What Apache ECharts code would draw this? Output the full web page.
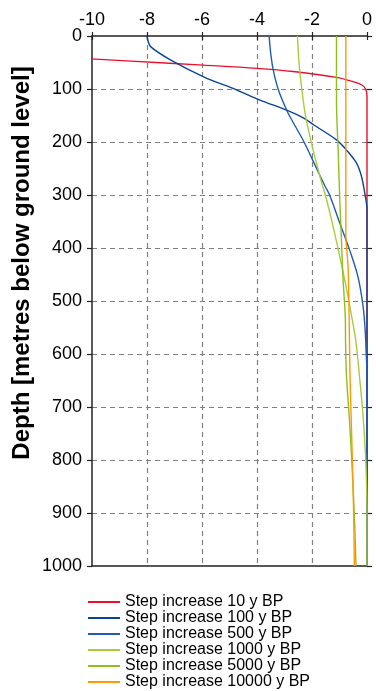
<!DOCTYPE html>
<html>
<head>
<meta charset="utf-8">
<script src="https://cdn.jsdelivr.net/npm/echarts@6/dist/echarts.min.js"></script>
<style>
html,body{margin:0;padding:0;background:#fff;}
#chart{width:376px;height:691px;}
</style>
</head>
<body>
<div id="chart"></div>
<script>
// ---- Data ----
var xTicks = [-10, -8, -6, -4, -2, 0];
var yTicks = [0, 100, 200, 300, 400, 500, 600, 700, 800, 900, 1000];
var seriesNames = ['Step increase 10 y BP', 'Step increase 100 y BP', 'Step increase 500 y BP',
                   'Step increase 1000 y BP', 'Step increase 5000 y BP', 'Step increase 10000 y BP'];

var depth10 = [42, 47, 55, 61, 67, 78, 86, 92, 100, 114, 200, 350, 1000];
var temp10  = [-10.42, -8.73, -5.95, -4.01, -2.68, -1.11, -0.51, -0.2, -0.05, 0, 0, 0, 0];

var depth100 = [0, 8, 20, 45, 77, 102, 121, 140, 155, 168, 196, 215, 240, 265, 297, 328, 1000];
var temp100  = [-8.0, -7.97, -7.87, -7.15, -5.94, -4.73, -3.89, -2.92, -2.3, -1.93, -1.11, -0.75, -0.38, -0.2, -0.08, 0, 0];

var depth500 = [0, 33, 64, 102, 140, 158, 200, 247, 284, 300, 353, 404, 454, 511, 561, 599, 636, 1000];
var temp500  = [-3.56, -3.5, -3.41, -3.22, -2.92, -2.74, -2.29, -1.86, -1.52, -1.36, -0.99, -0.63, -0.33, -0.14, -0.06, -0.03, 0, 0];

var depth1000 = [0, 58, 121, 155, 215, 265, 309, 360, 416, 473, 523, 574, 655, 712, 794, 840, 900, 1000];
var temp1000  = [-2.53, -2.46, -2.32, -2.22, -1.96, -1.71, -1.47, -1.23, -0.99, -0.76, -0.58, -0.41, -0.25, -0.15, -0.05, -0.02, 0, 0];

var depth5000 = [0, 121, 215, 309, 385, 460, 530, 574, 637, 731, 825, 919, 1000];
var temp5000  = [-1.11, -1.11, -1.05, -0.99, -0.93, -0.87, -0.79, -0.78, -0.75, -0.63, -0.53, -0.45, -0.40];

var depth10000 = [0, 372, 435, 530, 637, 731, 825, 919, 1000];
var temp10000  = [-0.77, -0.77, -0.69, -0.65, -0.62, -0.57, -0.52, -0.48, -0.46];

var colors = ['#E8112D', '#0A4396', '#1E5CB3', '#A8CC3A', '#8DBF1F', '#FF9A00'];

// ---- Build ----
function pairs(t, d) { return t.map(function (v, i) { return [v, d[i]]; }); }
var allData = [
  pairs(temp10, depth10), pairs(temp100, depth100), pairs(temp500, depth500),
  pairs(temp1000, depth1000), pairs(temp5000, depth5000), pairs(temp10000, depth10000)
];
var FONT = '"Liberation Sans", Arial, sans-serif';

var series = allData.map(function (d, i) {
  return {
    name: seriesNames[i], type: 'line', data: d,
    xAxisIndex: 0, yAxisIndex: 0,
    symbol: 'none', showSymbol: false,
    smooth: 0.35,
    clip: i !== 0,
    lineStyle: { color: colors[i], width: 1.4 },
    itemStyle: { color: colors[i] },
    z: 3 + i
  };
});

var chart = echarts.init(document.getElementById('chart'), null, { renderer: 'canvas' });
chart.setOption({
  animation: false,
  backgroundColor: '#fff',
  grid: { left: 92, right: 9, top: 36, bottom: 125, containLabel: false },
  xAxis: [
    {
      type: 'value', position: 'top', min: xTicks[0], max: xTicks[xTicks.length - 1], interval: 2,
      axisLine: { show: true, onZero: false, lineStyle: { color: '#222', width: 1.5 } },
      axisTick: { show: true, inside: false, length: 4, lineStyle: { color: '#222', width: 1.2 } },
      axisLabel: { show: true, margin: 7, fontSize: 18, color: '#000', fontFamily: FONT },
      splitLine: { show: true, showMinLine: false, showMaxLine: false,
                   lineStyle: { color: '#808080', type: [5, 4], width: 1.2 } }
    },
    {
      type: 'value', position: 'top', min: xTicks[0], max: xTicks[xTicks.length - 1], interval: 2,
      axisLine: { show: false },
      axisTick: { show: true, inside: true, length: 4, lineStyle: { color: '#222', width: 1.2 } },
      axisLabel: { show: false }, splitLine: { show: false }
    },
    {
      type: 'value', position: 'bottom', min: xTicks[0], max: xTicks[xTicks.length - 1], interval: 2,
      axisLine: { show: true, onZero: false, lineStyle: { color: '#222', width: 1.5 } },
      axisTick: { show: false }, axisLabel: { show: false }, splitLine: { show: false }
    }
  ],
  yAxis: [
    {
      type: 'value', inverse: true, position: 'left', min: yTicks[0], max: yTicks[yTicks.length - 1], interval: 100,
      axisLine: { show: true, onZero: false, lineStyle: { color: '#222', width: 1.5 } },
      axisTick: { show: true, inside: false, length: 5, lineStyle: { color: '#222', width: 1.2 } },
      axisLabel: { show: true, margin: 10, fontSize: 18, color: '#000', fontFamily: FONT,
                   formatter: function (v) { return String(v); } },
      splitLine: { show: true, showMinLine: false, showMaxLine: false,
                   lineStyle: { color: '#808080', type: [5, 4], width: 1.2 } }
    },
    {
      type: 'value', inverse: true, position: 'left', min: yTicks[0], max: yTicks[yTicks.length - 1], interval: 100,
      axisLine: { show: false },
      axisTick: { show: true, inside: true, length: 5, lineStyle: { color: '#222', width: 1.2 } },
      axisLabel: { show: false }, splitLine: { show: false }
    }
  ],
  legend: {
    data: seriesNames, orient: 'vertical', left: 88, top: 594, bottom: 0, padding: 0, itemGap: 0,
    icon: 'rect', itemWidth: 32, itemHeight: 2,
    textStyle: { fontSize: 16, lineHeight: 16, color: '#000', fontFamily: FONT }
  },
  graphic: [{
    type: 'text', x: 22, y: 263, rotation: Math.PI / 2,
    style: { text: 'Depth [metres below ground level]', font: 'bold 24px ' + FONT,
             fill: '#000', textAlign: 'center', textVerticalAlign: 'middle' }
  }],
  series: series
});
</script>
</body>
</html>
